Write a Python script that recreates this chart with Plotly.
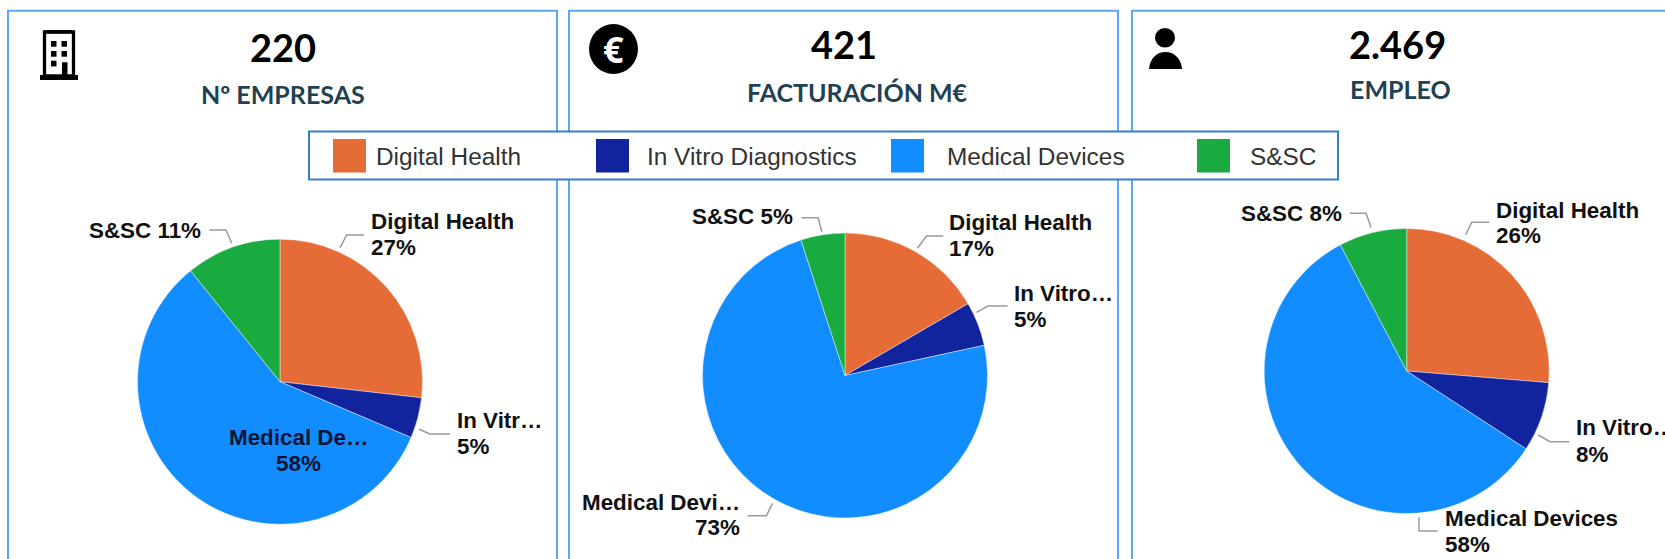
import plotly.graph_objects as go

W, H = 1665, 559

categories = ["Digital Health", "In Vitro Diagnostics", "Medical Devices", "S&SC"]
colors = ["#E66C37", "#12239E", "#118DFF", "#1AAB40"]
empresas = [26.8, 4.6, 57.8, 10.8]
facturacion = [16.6, 5.0, 73.4, 5.0]
empleo = [26.3, 7.9, 58.1, 7.7]
kpi_values = ["220", "421", "2.469"]
kpi_titles = ["Nº EMPRESAS", "FACTURACIÓN M€", "EMPLEO"]
labels_empresas = ["Digital Health", "In Vitr…", "Medical De…", "S&SC"]
labels_facturacion = ["Digital Health", "In Vitro…", "Medical Devi…", "S&SC"]
labels_empleo = ["Digital Health", "In Vitro…", "Medical Devices", "S&SC"]

PANEL = "#5BA8F2"
LEG = "#3A7CCB"
LABEL_SIZE = 22.4


def px(x):
    return x / W


def py(y):
    return 1 - y / H


fig = go.Figure()
shapes = []
ann = []


def rect(x0, y0, x1, y1, fill="rgba(0,0,0,0)", line=None, lw=0):
    shapes.append(dict(type="rect", xref="paper", yref="paper", x0=px(x0), x1=px(x1),
                       y0=py(y0), y1=py(y1), fillcolor=fill,
                       line=dict(color=line or "rgba(0,0,0,0)", width=lw)))


def txt(x, y, s, anchor="left", size=LABEL_SIZE, color="#111111", family="Liberation Sans", bold=True):
    ann.append(dict(xref="paper", yref="paper", x=px(x), y=py(y), text=f"<b>{s}</b>" if bold else s,
                    showarrow=False, xanchor=anchor, yanchor="middle", borderpad=0, borderwidth=0,
                    font=dict(size=size, color=color, family=family)))


def leader(points):
    path = "M" + " L".join(f"{px(a):.5f},{py(b):.5f}" for a, b in points)
    shapes.append(dict(type="path", xref="paper", yref="paper", path=path,
                       line=dict(color="#9a9a9a", width=1.5)))


# pies: (values, centre x, centre y)
R = 142.5
for vals, cx, cy in [(empresas, 280, 381.7), (facturacion, 845, 375.5), (empleo, 1406.7, 371)]:
    fig.add_trace(go.Pie(labels=categories, values=vals, sort=False, direction="clockwise",
                         rotation=0, textinfo="none", hoverinfo="label+percent",
                         marker=dict(colors=colors, line=dict(color="rgba(255,255,255,0.7)", width=0.6)),
                         domain=dict(x=[px(cx - R), px(cx + R)], y=[py(cy + R), py(cy - R)]),
                         showlegend=False))

# panels
rect(8, 10.7, 557, 600, line=PANEL, lw=2)
rect(569, 10.7, 1118, 600, line=PANEL, lw=2)
rect(1132, 10.7, 1700, 600, line=PANEL, lw=2)

# KPI headers
for v, t, vx, vy, tx, ty in zip(kpi_values, kpi_titles,
                                [283, 843.5, 1397.5], [47, 44, 44],
                                [283, 858, 1400], [93.5, 92, 89]):
    txt(vx, vy, v, "center", size=38, color="#000000", family="Lato")
    txt(tx, ty, t, "center", size=25, color="#1F4152", family="Lato")

# legend
rect(309, 131.5, 1338, 179.5, fill="#FFFFFF", line=LEG, lw=2)
for c, name, sx, tx in zip(colors, categories,
                           [333, 596, 891, 1197], [376, 647, 947, 1250]):
    rect(sx, 139, sx + 33, 172.5, fill=c)
    txt(tx, 156, name, "left", size=24.4, color="#333333", bold=False)


def pct(v):
    return f"{round(v)}%"


# pie 1 labels
txt(201, 230, f"{labels_empresas[3]} {pct(empresas[3])}", "right")
txt(370.7, 221.7, labels_empresas[0]); txt(370.7, 247.7, pct(empresas[0]))
txt(456.7, 420, labels_empresas[1]); txt(456.7, 446, pct(empresas[1]))
txt(298.3, 437.3, labels_empresas[2], "center", color="#071434")
txt(298.3, 463, pct(empresas[2]), "center", color="#071434")
leader([(209.3, 230), (226, 230), (231.7, 243.3)])
leader([(340, 247.7), (346.7, 235), (364, 235)])
leader([(419, 429.3), (430, 434), (450, 434)])

# pie 2 labels
txt(793.2, 216, f"{labels_facturacion[3]} {pct(facturacion[3])}", "right")
txt(949.3, 222.7, labels_facturacion[0]); txt(949.3, 249, pct(facturacion[0]))
txt(1013.9, 293.3, labels_facturacion[1]); txt(1013.9, 319.3, pct(facturacion[1]))
txt(739.6, 502.7, labels_facturacion[2], "right"); txt(739.6, 527.3, pct(facturacion[2]), "right")
leader([(801.4, 217.7), (818.2, 217.7), (821.8, 231.7)])
leader([(917.5, 248.3), (926.4, 236), (943.2, 236)])
leader([(976.4, 312.3), (987.9, 306), (1007.5, 306)])
leader([(772.5, 503.3), (766.4, 515.7), (747.5, 515.7)])

# pie 3 labels
txt(1341.7, 213.3, f"{labels_empleo[3]} {pct(empleo[3])}", "right")
txt(1496, 210, labels_empleo[0]); txt(1496, 235, pct(empleo[0]))
txt(1576, 427.7, labels_empleo[1]); txt(1576, 454.3, pct(empleo[1]))
txt(1445, 518.3, labels_empleo[2]); txt(1445, 544.3, pct(empleo[2]))
leader([(1350, 213.3), (1366, 213.3), (1371, 227.3)])
leader([(1465.7, 235), (1471.7, 222.3), (1489.3, 222.3)])
leader([(1538.3, 435), (1550, 441.7), (1569.3, 441.7)])
leader([(1419, 517.3), (1419, 531), (1437.7, 531)])

# icons
# building
rect(44.5, 32, 73.5, 76, fill="#FFFFFF", line="#000000", lw=3.3)
rect(46, 30, 72, 33.3, fill="#000000")
rect(40, 75, 78, 80, fill="#000000")
for wx, wy in [(51, 41), (61.5, 41), (51, 51), (61.5, 51), (51, 60.7)]:
    rect(wx, wy, wx + 5.5, wy + 5.7, fill="#000000")
rect(62, 62.3, 67.5, 76, fill="#000000")
# euro
shapes.append(dict(type="circle", xref="paper", yref="paper", x0=px(589), x1=px(638), y0=py(74), y1=py(24),
                   fillcolor="#000000", line=dict(width=0)))
txt(613.5, 49, "€", "center", size=36, color="#FFFFFF", family="Open Sans")
# person
shapes.append(dict(type="circle", xref="paper", yref="paper", x0=px(1155), x1=px(1175), y0=py(47.5), y1=py(28),
                   fillcolor="#000000", line=dict(width=0)))
body = (f"M{px(1149):.5f},{py(69):.5f} C{px(1150):.5f},{py(58):.5f} {px(1157):.5f},{py(52):.5f} {px(1165.3):.5f},{py(52):.5f} "
        f"C{px(1174):.5f},{py(52):.5f} {px(1181):.5f},{py(58):.5f} {px(1182):.5f},{py(69):.5f} Z")
shapes.append(dict(type="path", xref="paper", yref="paper", path=body, fillcolor="#000000", line=dict(width=0)))

fig.update_layout(width=W, height=H, autosize=False, margin=dict(l=0, r=0, t=0, b=0),
                  paper_bgcolor="#FFFFFF", plot_bgcolor="#FFFFFF", shapes=shapes, annotations=ann,
                  showlegend=False)
fig.write_html("out.html", config=dict(displayModeBar=False),
               post_script="document.body.style.margin='0';document.documentElement.style.overflow='hidden';")
